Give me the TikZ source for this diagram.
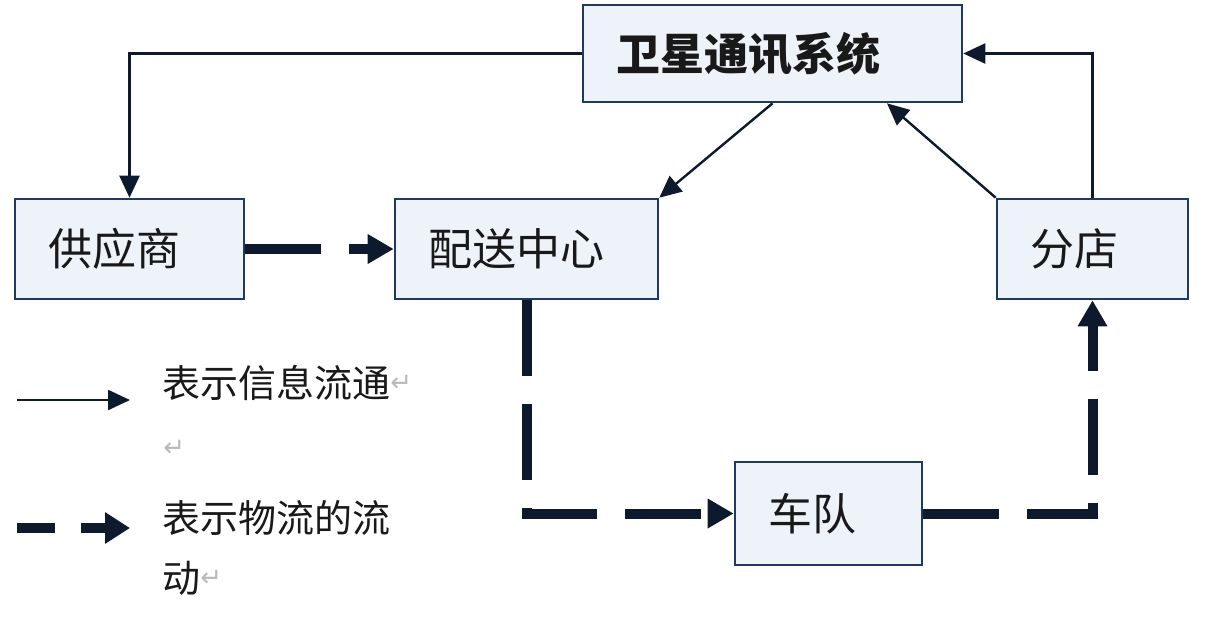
\documentclass[tikz,border=0pt]{standalone}
\usepackage{fontspec}
\setmainfont{Noto Sans CJK SC}
\newfontfamily\symfont{DejaVu Sans}
\usetikzlibrary{arrows.meta,calc,positioning}
\definecolor{boxfill}{HTML}{EEF3FA}
\definecolor{boxline}{HTML}{1E3A5F}
\definecolor{linkcol}{HTML}{0D1A2E}
\newcommand{\retmark}{{\symfont\fontsize{13pt}{13pt}\selectfont\color{gray!55}\raisebox{3pt}{↵}}}

\begin{document}
\begin{tikzpicture}[x=0.5pt,y=-0.5pt,>={Triangle[length=11pt,width=10pt]}]

    \tikzstyle{commonNode}=[draw=boxline, fill=boxfill, line width=1.3pt, rectangle, align=left, inner xsep=16.5pt, inner ysep=0pt, font=\fontsize{22pt}{26pt}\selectfont, text=black!90]
    \tikzstyle{unit}=[commonNode, minimum height=50pt]
    \tikzstyle{info}=[draw=linkcol, line width=1.2pt, ->]
    \tikzstyle{flow}=[draw=linkcol, line width=5pt, dash pattern=on 38pt off 14pt, -{Triangle[length=13pt,width=14pt]}]
    \tikzstyle{legendText}=[anchor=base west, inner sep=0pt, align=left, font=\fontsize{19pt}{30pt}\selectfont, text=black!90]

    \useasboundingbox (0,0) rectangle (1210,618);

    % Units
    \node at (772.5, 53.5)  [unit, minimum width=189.5pt, minimum height=48.5pt, text width=156.5pt, font=\fontsize{22pt}{26pt}\selectfont\bfseries] (sat) {卫星通讯系统};
    \node at (129.5, 249)   [unit, minimum width=114.5pt, text width=81.5pt]  (sup)   {供应商};
    \node at (526.5, 249)   [unit, minimum width=131.5pt, text width=98.5pt]  (dc)    {配送中心};
    \node at (1092.5, 249)  [unit, minimum width=95.5pt,  text width=62.5pt]  (shop)  {分店};
    \node at (828.5, 513.5) [unit, minimum width=93.5pt, minimum height=51.5pt, text width=60.5pt] (fleet) {车队};

    % Information
    \draw [info] (sat.west) -| (sup.north);
    \draw [info] (sat.south) -- (dc.north east);
    \draw [info] (shop.north west) -- ($(sat.south west)!0.8!(sat.south east)$);
    \draw [info] (shop.north) |- (sat.east);

    % Goods
    \draw [flow] (sup) -- (dc);
    \draw [flow] (dc.south) |- (fleet.west);
    \draw [flow] (fleet.east) -| (shop.south);

    % Legend
    \coordinate (infoStart) at (17, 400);
    \coordinate (infoEnd)   at (130, 400);
    \draw [info] (infoStart) -- (infoEnd);
    \node at (162, 397) [legendText] (infoText) {表示信息流通\retmark};
    \node at (163, 462) [legendText] (blankLine) {\retmark};
    \coordinate (flowStart) at (17, 528);
    \coordinate (flowEnd)   at (130, 528);
    \draw [flow, dash pattern=on 19pt off 13pt, -{Triangle[length=12.5pt,width=15pt]}] (flowStart) -- (flowEnd);
    \node at (162, 592) [legendText] (flowText) {表示物流的流\\动\retmark};

\end{tikzpicture}
\end{document}
